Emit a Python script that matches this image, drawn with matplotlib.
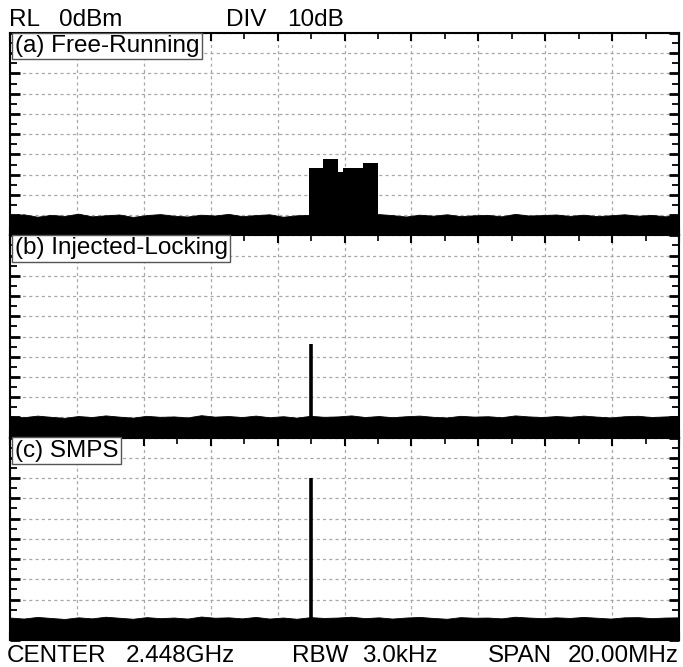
import matplotlib
matplotlib.use("Agg")
import matplotlib.pyplot as plt
from matplotlib.ticker import MultipleLocator
import numpy as np

plt.rcParams["font.family"] = ["Liberation Sans", "DejaVu Sans"]

# frequency offset from centre (MHz), span 20 MHz, 10 dB / div
span = [-10.0, 10.0]
ref_db = [-100.0, 0.0]

panel_labels = ["(a) Free-Running", "(b) Injected-Locking", "(c) SMPS"]

# noise floor envelope (dBm) read across the span
noise_a = [-90.2, -89.6, -90.8, -89.9, -90.4, -89.3, -90.6, -90.1, -89.7, -90.9,
           -90.0, -89.5, -90.3, -90.7, -89.8, -90.2, -89.4, -90.5, -90.0, -89.6,
           -90.8, -90.1, -89.9, -90.4, -89.7, -90.6, -90.2, -89.5, -90.0, -90.7,
           -89.8, -90.3, -89.6, -90.5, -90.1, -89.9, -90.6, -89.4, -90.2, -90.0,
           -89.7, -90.4, -89.8, -90.5, -90.1, -89.6, -90.3, -89.9, -90.6, -90.0]
noise_b = [-89.4, -89.9, -89.1, -89.7, -90.2, -89.3, -89.8, -89.0, -89.6, -90.1,
           -89.2, -89.7, -89.5, -90.0, -88.9, -89.6, -89.3, -89.8, -89.1, -89.9,
           -89.4, -90.1, -89.2, -89.7, -89.5, -89.0, -89.8, -89.3, -89.9, -89.4,
           -89.1, -89.7, -90.0, -89.2, -89.6, -89.4, -89.9, -89.0, -89.5, -89.8,
           -89.3, -89.7, -89.1, -89.6, -90.0, -89.4, -89.2, -89.8, -89.5, -89.3]
noise_c = [-88.9, -89.4, -88.6, -89.1, -89.6, -88.8, -89.3, -88.5, -89.0, -89.5,
           -88.7, -89.2, -88.9, -89.4, -88.4, -89.0, -88.8, -89.3, -88.6, -89.4,
           -88.9, -89.5, -88.7, -89.1, -88.9, -88.5, -89.2, -88.8, -89.4, -88.9,
           -88.6, -89.1, -89.5, -88.7, -89.0, -88.9, -89.3, -88.5, -88.9, -89.2,
           -88.8, -89.1, -88.6, -89.0, -89.4, -88.8, -88.7, -89.2, -88.9, -88.8]
noise_levels = [noise_a, noise_b, noise_c]

# (a) free-running: broadband hump, step edges (MHz) and levels (dBm)
hump_edges = [-1.05, -0.65, -0.18, -0.05, 0.56, 1.01]
hump_levels = [-66.8, -62.5, -68.8, -66.5, -64.3]

# (b), (c) single tone
tone_freq = [None, -1.0, -1.0]
tone_level = [None, -53.5, -20.0]

fig = plt.figure(figsize=(6.83, 6.67), dpi=100)
W, H = 683, 667
left, right, top, bottom = 10, 679, 33, 640
ph = (bottom - top) / 3

axes = []
for i in range(3):
    y_top = top + i * ph
    ax = fig.add_axes([left / W, 1 - (y_top + ph) / H, (right - left) / W, ph / H])
    axes.append(ax)

for i, ax in enumerate(axes):
    lv = noise_levels[i]
    f = np.linspace(span[0], span[1], len(lv))
    ax.fill_between(f, ref_db[0], lv, color="black", lw=0.6, edgecolor="black")

    if i == 0:
        ax.stairs(hump_levels, hump_edges, baseline=ref_db[0], fill=True,
                  color="black", lw=0)
    else:
        ax.vlines(tone_freq[i], ref_db[0], tone_level[i], color="black", lw=2.6)

    ax.set_xlim(span)
    ax.set_ylim(ref_db)
    ax.xaxis.set_major_locator(MultipleLocator(2))
    ax.xaxis.set_minor_locator(MultipleLocator(1))
    ax.yaxis.set_major_locator(MultipleLocator(10))
    ax.yaxis.set_minor_locator(MultipleLocator(5))
    ax.grid(True, which="major", color="#a8a8a8", lw=0.9, ls=(0, (2.5, 2.5)))
    ax.set_axisbelow(True)
    ax.tick_params(which="both", direction="in", left=True, right=True,
                   top=True, bottom=True, labelleft=False, labelbottom=False)
    ax.tick_params(which="major", axis="y", length=7, width=2)
    ax.tick_params(which="minor", axis="y", length=5, width=1.3)
    ax.tick_params(which="major", axis="x", length=6, width=1.5)
    ax.tick_params(which="minor", axis="x", length=4, width=1.2)
    for s in ax.spines.values():
        s.set_linewidth(1.5)

    ax.text(0.007, 0.99, panel_labels[i], transform=ax.transAxes, fontsize=17.5,
            va="top", ha="left", zorder=10,
            bbox=dict(boxstyle="square,pad=0.1", fc="white", ec="#555555", lw=1))

def put(x, y, s):
    fig.text(x / W, 1 - y / H, s, fontsize=17.5, va="baseline", ha="left")

put(9, 26, "RL")
put(59, 26, "0dBm")
put(226, 26, "DIV")
put(287, 26, "10dB")
put(7, 662, "CENTER")
put(126, 662, "2.448GHz")
put(292, 662, "RBW")
put(362, 662, "3.0kHz")
put(488, 662, "SPAN")
put(568, 662, "20.00MHz")

fig.savefig("out.png", dpi=100)
